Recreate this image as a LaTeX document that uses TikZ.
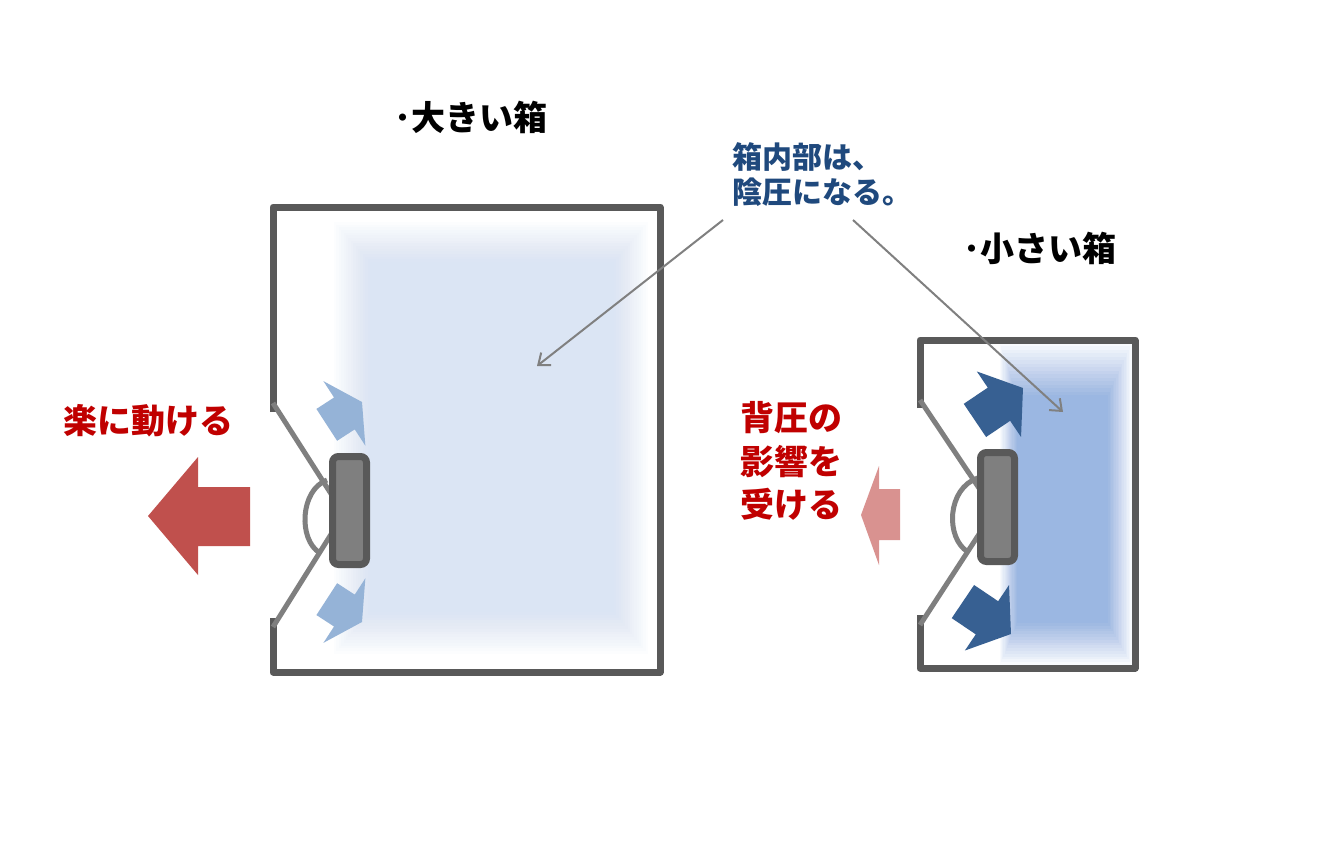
\documentclass[tikz,border=0pt]{standalone}
\usepackage{fontspec}
\setmainfont{Noto Sans CJK JP}
\usetikzlibrary{arrows.meta}

\definecolor{wallgray}{RGB}{89,89,89}
\definecolor{conegray}{RGB}{127,127,127}
\definecolor{callgray}{RGB}{128,128,128}
\definecolor{paleair}{RGB}{219,229,244}
\definecolor{denseair}{RGB}{155,183,226}
\definecolor{palepush}{RGB}{149,179,215}
\definecolor{densepush}{RGB}{55,96,146}
\definecolor{movered}{RGB}{192,80,77}
\definecolor{palered}{RGB}{217,146,144}
\definecolor{textred}{RGB}{192,0,0}
\definecolor{textblue}{RGB}{31,73,125}

\begin{document}
\begin{tikzpicture}[x=0.5pt,y=-0.5pt,
  wall/.style={draw=wallgray,line width=3.5pt,line join=round},
  cone/.style={draw=conegray,line width=2.5pt},
  magnet/.style={draw=wallgray,fill=conegray,line width=3.5pt,rounded corners=3pt},
  title/.style={font=\bfseries\fontsize{17}{20}\selectfont,inner sep=0pt},
  redtext/.style={text=textred,font=\bfseries\fontsize{17}{21.75}\selectfont,inner sep=0pt},
  note/.style={text=textblue,font=\bfseries\fontsize{15}{17.5}\selectfont,inner sep=0pt,align=left},
  callout/.style={draw=callgray,line width=1pt,-{Straight Barb[length=5pt,width=8pt]}}]
\fill[white] (0,0) rectangle (1340,867);
\useasboundingbox (0,0) rectangle (1340,867);

% air inside the boxes
\foreach \k in {0,...,15} {
  \pgfmathsetmacro\op{1/(16-\k)}
  \fill[paleair, fill opacity=\op] ({334+\k*36/15},{222+\k*40/15}) rectangle ({648-\k*34/15},{654-\k*42/15});
  \fill[denseair, fill opacity=\op] ({1000+\k*17/15},{343+\k*52/15}) rectangle ({1132-\k*24/15},{665-\k*42/15});
}

% big box
\draw[wall] (273,412) -- (273,207) -- (660,207) -- (660,672) -- (273,672) -- (273,618);
\draw[cone] (273,403) -- (335,500);
\draw[cone] (273,627) -- (335,528);
\draw[cone] (327,480) .. controls (300,490) and (298,540) .. (320,553);
\draw[magnet] (332.5,456.5) rectangle (366.5,564.5);
\fill[palepush, shift={(362,402)}, rotate=33] (0,0) -- (-21,-38.5) -- (-21,-19) -- (-42,-19) -- (-42,19) -- (-21,19) -- (-21,38.5) -- cycle;
\fill[palepush, shift={(362,622)}, rotate=-33] (0,0) -- (-21,-38.5) -- (-21,-19) -- (-42,-19) -- (-42,19) -- (-21,19) -- (-21,38.5) -- cycle;

% small box
\draw[wall] (920,408) -- (920,340) -- (1135,340) -- (1135,668) -- (920,668) -- (920,615);
\draw[cone] (920,400) -- (985,497);
\draw[cone] (920,625) -- (985,525);
\draw[cone] (978,478) .. controls (947,488) and (945,538) .. (968,552);
\draw[magnet] (980.5,452.5) rectangle (1014.5,561.5);
\fill[densepush, shift={(1023,388)}, rotate=34] (0,0) -- (-29,-39.5) -- (-29,-20) -- (-58,-20) -- (-58,20) -- (-29,20) -- (-29,39.5) -- cycle;
\fill[densepush, shift={(1011,634)}, rotate=-34] (0,0) -- (-29,-39.5) -- (-29,-20) -- (-58,-20) -- (-58,20) -- (-29,20) -- (-29,39.5) -- cycle;

% motion arrows
\fill[movered] (148,516) -- (198,457) -- (198,487) -- (250,487) -- (250,546) -- (198,546) -- (198,575) -- cycle;
\fill[palered] (861,515) -- (879,466) -- (879,489) -- (900,489) -- (900,540) -- (879,540) -- (879,565) -- cycle;

% labels
\node[title] (bigtitle) at (471,117) {･大きい箱};
\node[title] (smalltitle) at (1040,248) {･小さい箱};
\node[redtext] (easy) at (148,421) {楽に動ける};
\node[redtext, align=center] (back) at (791,461) {背圧の\\影響を\\受ける};
\node[note, anchor=south west] (note) at (732,207) {箱内部は、\\陰圧になる。};

\coordinate (bigin) at (537,366);
\coordinate (smallin) at (1063,412);
\draw[callout] ([shift={(-9,13)}]note.south west) -- (bigin);
\draw[callout] ([shift={(121,13)}]note.south west) -- (smallin);
\end{tikzpicture}
\end{document}
